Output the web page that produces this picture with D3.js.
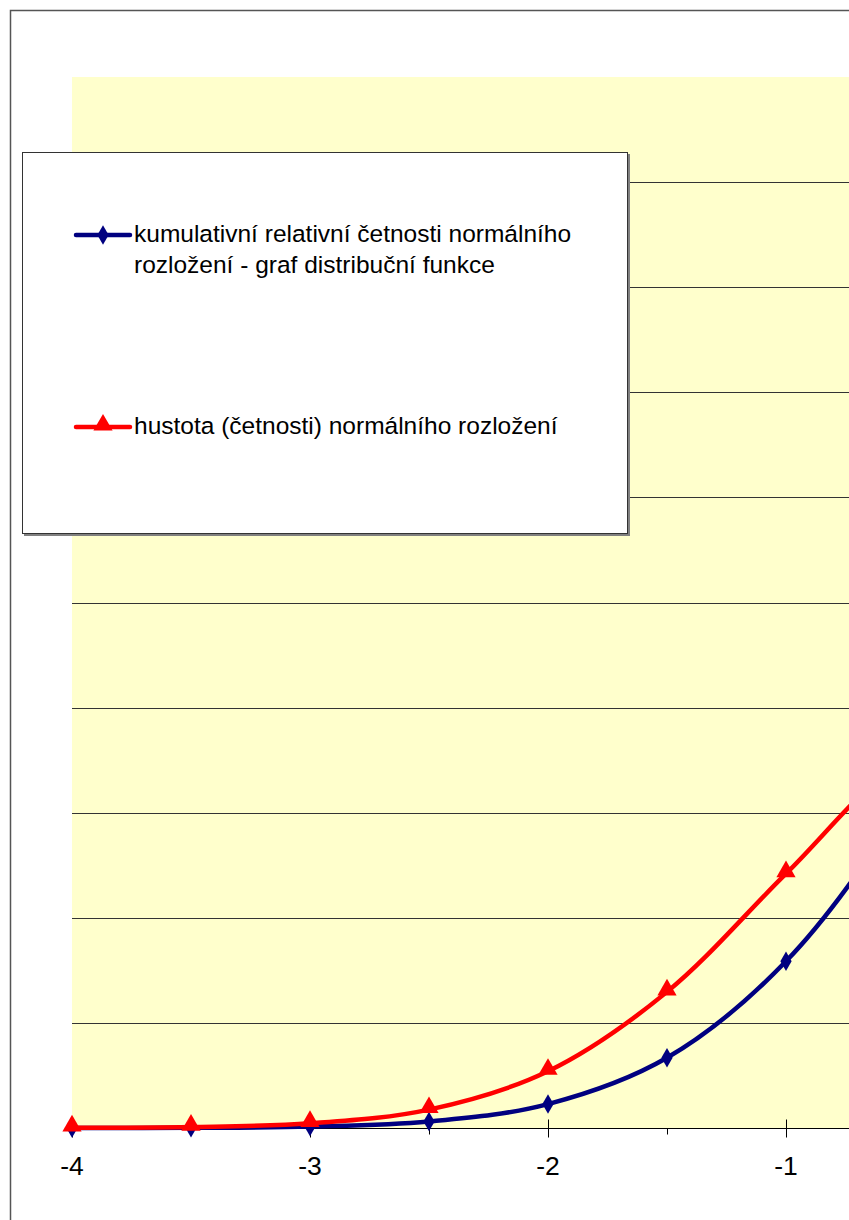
<!DOCTYPE html>
<html><head><meta charset="utf-8">
<script src="https://cdn.jsdelivr.net/npm/d3@7"></script>
<style>body{margin:0;background:#fff;overflow:hidden}svg{display:block}</style>
</head><body>
<script>
const xValues = [-4,-3.5,-3,-2.5,-2,-1.5,-1,-0.5,0,0.5,1,1.5,2,2.5,3,3.5,4];
const cdfValues = [0.00003,0.00023,0.00135,0.00621,0.02275,0.06681,0.15866,0.30854,0.5,0.69146,0.84134,0.93319,0.97725,0.99379,0.99865,0.99977,0.99997];
const pdfValues = [0.00013,0.00087,0.00443,0.01753,0.05399,0.12952,0.24197,0.35207,0.39894,0.35207,0.24197,0.12952,0.05399,0.01753,0.00443,0.00087,0.00013];
const xTickLabels = [-4,-3,-2,-1,0,1,2,3,4];
const yTicks = [0,0.1,0.2,0.3,0.4,0.5,0.6,0.7,0.8,0.9,1];
const seriesNames = ["kumulativní relativní četnosti normálního|rozložení - graf distribuční funkce","hustota (četnosti) normálního rozložení"];

const W=849,H=1220;
const svg=d3.select("body").append("svg").attr("width",W).attr("height",H);
svg.append("rect").attr("x",10.5).attr("y",10.5).attr("width",W+20).attr("height",H+20)
  .attr("fill","#fff").attr("stroke","#555").attr("stroke-width",1.5);

const x=d3.scaleLinear().domain([-4,4]).range([72,72+8*238]);
const y=d3.scaleLinear().domain([0,1]).range([1128,77]);

svg.append("rect").attr("x",x(-4)).attr("y",y(1)).attr("width",x(4)-x(-4)).attr("height",y(0)-y(1)).attr("fill","#FFFFCC");

svg.append("g").selectAll("line").data(yTicks.slice(1,-1)).join("line")
  .attr("x1",x(-4)).attr("x2",x(4)).attr("y1",d=>Math.round(y(d))+0.5).attr("y2",d=>Math.round(y(d))+0.5)
  .attr("stroke","#333").attr("stroke-width",1);

// x axis
const gx=svg.append("g").attr("transform",`translate(0,${Math.round(y(0))+0.5})`);
gx.append("line").attr("x1",x(-4)).attr("x2",x(4)).attr("stroke","#000").attr("stroke-width",1);
gx.selectAll(".maj").data(xTickLabels).join("line").attr("class","maj")
  .attr("x1",d=>Math.round(x(d))+0.5).attr("x2",d=>Math.round(x(d))+0.5).attr("y1",-9).attr("y2",9).attr("stroke","#000");
gx.selectAll(".min").data(xValues.filter(v=>!Number.isInteger(v))).join("line").attr("class","min")
  .attr("x1",d=>Math.round(x(d))+0.5).attr("x2",d=>Math.round(x(d))+0.5).attr("y1",0).attr("y2",6).attr("stroke","#000");
gx.selectAll("text").data(xTickLabels.filter(d=>x(d)<W-20)).join("text")
  .attr("x",d=>x(d)).attr("y",46.5).attr("text-anchor","middle")
  .attr("font-family","Liberation Sans, Arial, sans-serif").attr("font-size",26.5).attr("fill","#000")
  .text(d=>d<0?"-"+Math.abs(d):d);

const line=d3.line().x(d=>x(d[0])).y(d=>y(d[1])).curve(d3.curveCatmullRom.alpha(0.5));
const cdf=xValues.map((v,i)=>[v,cdfValues[i]]);
const pdf=xValues.map((v,i)=>[v,pdfValues[i]]);

const diamond=d3.symbol().type(d3.symbolDiamond).size(110);
const tri=d3.symbol().type(d3.symbolTriangle).size(160);

svg.append("path").datum(cdf).attr("d",line).attr("fill","none").attr("stroke","#000080").attr("stroke-width",4.5);
svg.append("g").selectAll("path").data(cdf).join("path").attr("d",diamond)
  .attr("transform",d=>`translate(${x(d[0])},${y(d[1])})`).attr("fill","#000080");
svg.append("path").datum(pdf).attr("d",line).attr("fill","none").attr("stroke","#FF0000").attr("stroke-width",4.5);
svg.append("g").selectAll("path").data(pdf).join("path").attr("d",tri)
  .attr("transform",d=>`translate(${x(d[0])},${y(d[1])-2})`).attr("fill","#FF0000");

// legend
const lg=svg.append("g");
lg.append("rect").attr("x",24).attr("y",154).attr("width",606).attr("height",382).attr("fill","#808080");
lg.append("rect").attr("x",22.5).attr("y",152.5).attr("width",605).attr("height",381).attr("fill","#fff").attr("stroke","#333").attr("stroke-width",1);
const items=[{c:"#000080",sym:diamond,y:235,ty:242,lines:seriesNames[0].split("|")},
             {c:"#FF0000",sym:tri,y:427,ty:434,lines:seriesNames[1].split("|")}];
items.forEach(it=>{
  lg.append("line").attr("x1",76).attr("x2",130).attr("y1",it.y).attr("y2",it.y).attr("stroke",it.c).attr("stroke-width",4.5).attr("stroke-linecap","round");
  lg.append("path").attr("d",it.sym).attr("transform",`translate(103,${it.y-(it.c==="#FF0000"?2:0)})`).attr("fill",it.c);
  const t=lg.append("text").attr("x",134).attr("y",it.ty).attr("font-family","Liberation Sans, Arial, sans-serif").attr("font-size",24.5).attr("fill","#000");
  it.lines.forEach((l,i)=>t.append("tspan").attr("x",134).attr("dy",i?31:0).text(l));
});
</script>
</body></html>
